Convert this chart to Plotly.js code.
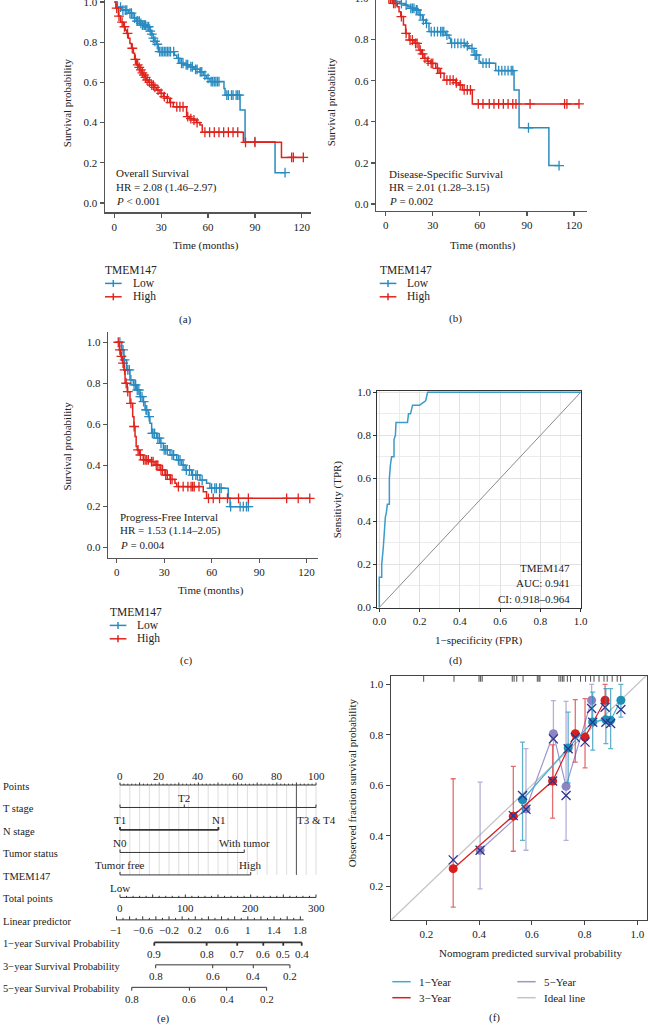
<!DOCTYPE html>
<html><head><meta charset="utf-8">
<script src="https://cdn.plot.ly/plotly-3.0.1.min.js"></script>
<style>html,body{margin:0;padding:0;background:#fff;overflow:hidden;width:648px;height:1025px}
#chart{position:absolute;left:0;top:-20px;width:648px;height:1045px}</style>
</head><body><div id="chart"></div>
<script>
// ---------------- DATA ----------------
// (a) Overall survival
const a_low_t = [0, 2, 5, 9, 12, 14, 16.4, 18, 20.7, 22.8, 24, 25, 26, 27, 28.2, 38.5, 40, 42, 45, 48.4, 51, 54.8, 57, 59, 61.2, 70.2, 70.9, 80.5, 83.7, 102.9];
const a_low_s = [1, 0.975, 0.96, 0.945, 0.92, 0.905, 0.894, 0.885, 0.877, 0.855, 0.84, 0.82, 0.805, 0.79, 0.753, 0.735, 0.72, 0.695, 0.688, 0.678, 0.665, 0.653, 0.635, 0.62, 0.604, 0.57, 0.537, 0.463, 0.305, 0.151];
const a_low_end = 109.3;
const a_low_cens = [4, 5.5, 7, 8, 10, 11, 13, 14.5, 15, 16, 17, 18, 19, 19.5, 20, 21, 22, 23, 24, 25, 26, 27.5, 29, 30, 31, 32, 33, 34, 35, 36, 38, 41, 43, 44, 46, 47, 49, 50, 52, 53, 55, 56, 58, 60, 62, 63, 64, 65, 66, 67, 72, 73, 75, 76, 78, 79, 80, 90, 109.3];
const a_high_t = [0, 1, 2.6, 4, 5.8, 7, 7.9, 9, 10, 11, 12.2, 13, 14.3, 15.5, 16.4, 17.5, 18.6, 19.5, 20.7, 22, 23.9, 25.5, 27.1, 29.2, 31.4, 33.5, 35.5, 37.8, 46.3, 48, 50.6, 52.5, 54.8, 56.3, 82.6, 107];
const a_high_s = [1, 0.97, 0.93, 0.9, 0.877, 0.86, 0.844, 0.82, 0.794, 0.77, 0.745, 0.715, 0.687, 0.675, 0.662, 0.648, 0.637, 0.625, 0.612, 0.6, 0.587, 0.575, 0.562, 0.546, 0.529, 0.521, 0.5, 0.479, 0.43, 0.42, 0.413, 0.4, 0.388, 0.352, 0.302, 0.227];
const a_high_end = 121;
const a_high_cens = [1.5, 3, 5, 6.5, 8.5, 11.5, 13.5, 15, 16, 17, 18, 19, 20, 21, 22.5, 24, 25, 26, 28, 30, 32, 34, 36, 40, 42, 44, 47, 49, 51, 53, 58, 61, 64, 67, 70, 73, 76, 79, 84, 90, 113.5, 114.6, 121];

// (b) Disease-specific survival
const b_low_t = [0, 4, 6.4, 9, 11.7, 14, 15.9, 19.1, 21.2, 23.4, 25.5, 27.6, 38.2, 40.4, 41.4, 51, 53.1, 56.3, 59.5, 60.5, 70.1, 81.8, 85, 104];
const b_low_s = [1, 0.99, 0.985, 0.975, 0.968, 0.96, 0.952, 0.944, 0.92, 0.895, 0.879, 0.839, 0.822, 0.806, 0.782, 0.77, 0.757, 0.725, 0.693, 0.685, 0.649, 0.555, 0.371, 0.187];
const b_low_end = 110.5;
const b_low_cens = [7, 10, 13, 16, 17, 18, 19.5, 20, 22, 24, 26, 29, 31, 33, 35, 36, 37, 39, 42, 44, 46, 48, 50, 52, 55, 57, 58, 62, 64, 66, 72, 74, 76, 78, 80, 81, 91, 110.5];
const b_high_t = [0, 4.2, 7.4, 8.5, 9.6, 11.3, 12.7, 14.9, 18, 21.2, 22.8, 24.4, 26.5, 28.7, 31.9, 34, 37.2, 44.6, 46.7, 48.9, 55.2];
const b_high_s = [1, 0.976, 0.96, 0.935, 0.912, 0.871, 0.83, 0.798, 0.782, 0.749, 0.73, 0.709, 0.695, 0.684, 0.66, 0.636, 0.603, 0.59, 0.579, 0.555, 0.487];
const b_high_end = 123.2;
const b_high_cens = [2, 3, 5, 6, 10, 13, 15.5, 17, 19, 20, 22, 23.5, 25, 27, 29, 30, 33, 35, 39, 41, 43, 45, 47.5, 50, 52, 54, 59, 62, 66, 69, 72, 75, 78, 81, 83, 92, 114, 115.5, 123.2];

// (c) Progress-free interval
const c_low_t = [0, 3.2, 4.6, 6.3, 8.4, 10.5, 12.6, 14.7, 16.8, 17.9, 20, 21, 22.1, 25.3, 27.4, 29.5, 33.7, 37.9, 41, 43.2, 47.4, 52.6, 56.8, 58.9, 70.5, 71.6];
const c_low_s = [1, 0.963, 0.914, 0.865, 0.816, 0.792, 0.767, 0.735, 0.71, 0.67, 0.637, 0.605, 0.556, 0.532, 0.507, 0.475, 0.45, 0.426, 0.401, 0.377, 0.352, 0.328, 0.312, 0.288, 0.239, 0.198];
const c_low_end = 83.2;
const c_low_cens = [2, 4, 5, 7, 8, 9, 11, 12, 13, 14, 15, 16, 17, 18.5, 19, 20.5, 22.5, 23, 24, 26, 27, 28, 30, 31, 32, 35, 36, 39, 40, 42, 44, 46, 48, 50, 51, 54, 60, 62, 63, 65, 66, 72, 78, 80, 82, 83.2];
const c_high_t = [0, 1.7, 2.5, 3.8, 4.6, 5.3, 6.7, 8.4, 10.1, 10.9, 11.6, 12.3, 13, 14.3, 16.8, 21, 24.2, 27.4, 30.5, 33.7, 36.8, 37.9, 54.7, 56.8];
const c_high_s = [1, 0.963, 0.931, 0.898, 0.865, 0.8, 0.759, 0.702, 0.637, 0.589, 0.54, 0.491, 0.475, 0.45, 0.426, 0.418, 0.401, 0.377, 0.352, 0.331, 0.312, 0.296, 0.271, 0.239];
const c_high_end = 122;
const c_high_cens = [1, 2, 3, 4, 5, 6, 7, 9, 11, 13.5, 15, 17, 18, 19, 20, 22, 23, 25, 26, 28, 29, 31, 32, 34, 35, 39, 42, 45, 47, 48, 49, 52, 58, 61, 65, 70, 77, 83.2, 107.4, 114.7, 122];

// (d) ROC
const roc_fpr = [0, 0, 0.012, 0.012, 0.02, 0.025, 0.03, 0.035, 0.04, 0.05, 0.05, 0.055, 0.061, 0.073, 0.073, 0.08, 0.083, 0.14, 0.145, 0.155, 0.165, 0.2, 0.23, 0.235, 0.24, 1.0];
const roc_tpr = [0, 0.14, 0.14, 0.2, 0.28, 0.36, 0.42, 0.44, 0.48, 0.48, 0.6, 0.66, 0.7, 0.7, 0.78, 0.8, 0.86, 0.86, 0.9, 0.9, 0.94, 0.94, 0.96, 0.98, 1.0, 1.0];

// (e) Nomogram
const nom_rows = ["Points", "T stage", "N stage", "Tumor status", "TMEM147", "Total points", "Linear predictor", "1\u2212year Survival Probability", "3\u2212year Survival Probability", "5\u2212year Survival Probability"];
const pts_labels = [0, 20, 40, 60, 80, 100];
const t_levels = ["T1", "T2", "T3 & T4"];      const t_points = [0, 32.8, 100];
const n_levels = ["N0", "N1"];                 const n_points = [0, 50.2];
const tumor_levels = ["Tumor free", "With tumor"]; const tumor_points = [0, 63.4];
const tmem_levels = ["Low", "High"];           const tmem_points = [0, 66.7];
const total_labels = [0, 100, 200, 300];
const lp_labels = [-1, -0.6, -0.2, 0.2, 0.6, 1, 1.4, 1.8];
const lp_pts_at_minus1 = -1.8, lp_pts_per_unit = 33.5;
const surv1_probs = [0.9, 0.8, 0.7, 0.6, 0.5, 0.4]; const surv1_pts = [17.5, 44.2, 59.8, 73.1, 83.3, 92.7];
const surv3_probs = [0.8, 0.6, 0.4, 0.2];           const surv3_pts = [18.2, 47.3, 68.0, 86.7];
const surv5_probs = [0.8, 0.6, 0.4, 0.2];           const surv5_pts = [6.0, 35.4, 54.4, 74.8];

// (f) Calibration
const cal1_x = [0.565, 0.738, 0.831, 0.881, 0.899, 0.938];
const cal1_y = [0.543, 0.748, 0.851, 0.860, 0.858, 0.937];
const cal1_hi = [0.771, 0.890, 0.969, 0.983, 0.983, 1.0];
const cal1_lo = [0.382, 0.61, 0.739, 0.765, 0.745, 0.870];
const cal1_corr = [0.560, 0.745, 0.85, 0.85, 0.845, 0.90];
const cal3_x = [0.302, 0.530, 0.679, 0.765, 0.802, 0.878];
const cal3_y = [0.270, 0.478, 0.617, 0.804, 0.791, 0.937];
const cal3_hi = [0.626, 0.675, 0.76, 0.939, 0.943, 1.0];
const cal3_lo = [0.118, 0.339, 0.470, 0.692, 0.669, 0.86];
const cal3_corr = [0.305, 0.48, 0.617, 0.79, 0.771, 0.909];
const cal5_x = [0.404, 0.578, 0.682, 0.730, 0.827];
const cal5_y = [0.343, 0.507, 0.804, 0.596, 0.937];
const cal5_hi = [0.613, 0.745, 0.935, 0.932, 1.0];
const cal5_lo = [0.190, 0.343, 0.62, 0.382, 0.85];
const cal5_corr = [0.343, 0.505, 0.784, 0.560, 0.904];
const rug_x = [0.19, 0.305, 0.40, 0.406, 0.412, 0.526, 0.533, 0.543, 0.567, 0.621, 0.627, 0.631, 0.703, 0.71, 0.716, 0.722, 0.735, 0.747, 0.785, 0.804, 0.823, 0.836, 0.855, 0.874, 0.886, 0.905, 0.924, 0.937];

// ---------------- HELPERS ----------------
const W = 648, H = 1045, OFF = 20;
const FONT = "'Liberation Serif', 'Times New Roman', serif";
const TXT = '#222';
const BLUE = '#2a8bc0', RED = '#e0231c';
const C1 = '#1e90b8', C1L = '#45aad2', C3 = '#d81e1e', C5 = '#8c85c4', C5L = '#9d96cf', NAVY = '#2c3590', IDEAL = '#c4c4c4';
function px(x) { return x / W; }
function py(y) { return 1 - (y + OFF) / H; }
function xd(a, b) { return [px(a), px(b)]; }
function yd(top, bot) { return [py(bot), py(top)]; }
const traces = [], shapes = [], anns = [];
function ann(text, x, y, size, xanchor, extra) {
  anns.push(Object.assign({ text, x: px(x), y: py(y), xref: 'paper', yref: 'paper', showarrow: false,
    xanchor: xanchor || 'center', yanchor: 'middle', font: { family: FONT, size: size || 11, color: TXT } }, extra || {}));
}
function stepAt(ts, ss, t) { let s = ss[0]; for (let i = 0; i < ts.length; i++) if (ts[i] <= t) s = ss[i]; return s; }
function km(ts, ss, tEnd, cens, color, xa, ya) {
  traces.push({ type: 'scatter', mode: 'lines', x: ts.concat([tEnd]), y: ss.concat([ss[ss.length - 1]]), xaxis: xa, yaxis: ya,
    line: { color, width: 1.5, shape: 'hv' }, hoverinfo: 'skip' });
  traces.push({ type: 'scatter', mode: 'markers', x: cens, y: cens.map(t => stepAt(ts, ss, t)), xaxis: xa, yaxis: ya,
    marker: { symbol: 'cross-thin-open', size: 7, color, line: { color, width: 1.3 } }, hoverinfo: 'skip' });
}
const tickFont = { family: FONT, size: 11, color: TXT };
function kmX(dom, anchor, range) {
  return { domain: dom, anchor, range, tickvals: [0, 30, 60, 90, 120], ticks: 'outside', ticklen: 4, tickwidth: 1.2, tickcolor: '#555',
    showline: true, linecolor: '#555', linewidth: 1.5, showgrid: false, zeroline: false, tickfont: tickFont };
}
function kmY(dom, anchor, range) {
  return { domain: dom, anchor, range, tickvals: [0, 0.2, 0.4, 0.6, 0.8, 1.0], tickformat: '.1f', ticks: 'outside', ticklen: 4, tickwidth: 1.2,
    tickcolor: '#555', showline: true, linecolor: '#555', linewidth: 1.5, showgrid: false, zeroline: false, tickfont: tickFont };
}
function kmLegend(x0, yT) {
  ann('TMEM147', x0, yT, 11.5, 'left');
  [[BLUE, 'Low'], [RED, 'High']].forEach((it, i) => {
    const y = yT + 13.4 * (i + 1);
    shapes.push({ type: 'line', xref: 'paper', yref: 'paper', x0: px(x0 + 1.7), x1: px(x0 + 18.4), y0: py(y), y1: py(y), line: { color: it[0], width: 1.5 } });
    shapes.push({ type: 'line', xref: 'paper', yref: 'paper', x0: px(x0 + 10), x1: px(x0 + 10), y0: py(y - 3.5), y1: py(y + 3.5), line: { color: it[0], width: 1.5 } });
    ann(it[1], x0 + 27.4, y, 11.5, 'left');
  });
}

// ---------------- PANEL A ----------------
km(a_low_t, a_low_s, a_low_end, a_low_cens, BLUE, 'x', 'y');
km(a_high_t, a_high_s, a_high_end, a_high_cens, RED, 'x', 'y');
ann('Overall Survival', 114.3, 173.3, 11, 'left');
ann('HR = 2.08 (1.46\u20132.97)', 114.3, 187.5, 11, 'left');
ann('<i>P</i> &lt; 0.001', 114.3, 201, 11, 'left');
ann('Time (months)', 206, 245, 11);
ann('Survival probability', 66.7, 102.5, 11, 'center', { textangle: -90 });
kmLegend(103.3, 270);
ann('(a)', 185, 319.3, 11);

// ---------------- PANEL B ----------------
km(b_low_t, b_low_s, b_low_end, b_low_cens, BLUE, 'x2', 'y2');
km(b_high_t, b_high_s, b_high_end, b_high_cens, RED, 'x2', 'y2');
ann('Disease-Specific Survival', 386.5, 174, 11, 'left');
ann('HR = 2.01 (1.28\u20133.15)', 386.5, 188, 11, 'left');
ann('<i>P</i> = 0.002', 386.5, 201.5, 11, 'left');
ann('Time (months)', 483, 245, 11);
ann('Survival probability', 331.3, 102, 11, 'center', { textangle: -90 });
kmLegend(378, 270);
ann('(b)', 455, 319, 11);

// ---------------- PANEL C ----------------
km(c_low_t, c_low_s, c_low_end, c_low_cens, BLUE, 'x3', 'y3');
km(c_high_t, c_high_s, c_high_end, c_high_cens, RED, 'x3', 'y3');
ann('Progress-Free Interval', 118.3, 517.3, 11, 'left');
ann('HR = 1.53 (1.14\u20132.05)', 118.3, 530.9, 11, 'left');
ann('<i>P</i> = 0.004', 118.3, 545, 11, 'left');
ann('Time (months)', 211, 590, 11);
ann('Survival probability', 66.5, 446, 11, 'center', { textangle: -90 });
kmLegend(108, 612);
ann('(c)', 186.7, 660, 11);

// ---------------- PANEL D ----------------
traces.push({ type: 'scatter', mode: 'lines', x: [0, 1], y: [0, 1], xaxis: 'x4', yaxis: 'y4', line: { color: '#8a8a8a', width: 1 }, hoverinfo: 'skip' });
traces.push({ type: 'scatter', mode: 'lines', x: roc_fpr, y: roc_tpr, xaxis: 'x4', yaxis: 'y4', line: { color: '#3a9cc8', width: 1.5 }, hoverinfo: 'skip' });
ann('TMEM147', 572, 567.7, 11, 'right');
ann('AUC: 0.941', 572, 583.3, 11, 'right');
ann('CI: 0.918\u20130.964', 572, 598.5, 11, 'right');
ann('1\u2212specificity (FPR)', 479, 640, 11);
ann('Sensitivity (TPR)', 337.3, 499, 11, 'center', { textangle: -90 });
ann('(d)', 455.7, 660.7, 11);

// ---------------- PANEL E (nomogram) ----------------
function seg(list, color, width) {
  const x = [], y = [];
  list.forEach(s => { x.push(s[0], s[2], null); y.push(s[1], s[3], null); });
  traces.push({ type: 'scatter', mode: 'lines', x, y, xaxis: 'x5', yaxis: 'y5', line: { color, width }, hoverinfo: 'skip' });
}
function nlab(text, x, row, shift, size) {
  anns.push({ text, x, y: row, xref: 'x5', yref: 'y5', showarrow: false, xanchor: 'center', yanchor: 'middle', yshift: shift,
    font: { family: FONT, size: size || 11, color: TXT } });
}
// grid lines
const grid = [];
for (let p = 0; p <= 100; p += 5) grid.push([p, 0, p, 4]);
seg(grid, '#d4d4d4', 0.8);
seg([[90, 0, 90, 4]], '#555', 1);
// row labels
nom_rows.forEach((r, i) => anns.push({ text: r, x: px(1), y: i, xref: 'paper', yref: 'y5', showarrow: false, xanchor: 'left', yanchor: 'middle',
  yshift: -1.5, font: { family: FONT, size: 10.5, color: TXT } }));
// Points axis (row 0)
const ptTicks = [];
for (let p = 0; p <= 100; p += 2) ptTicks.push([p, 0, p, (p % 10 === 0) ? -0.11 : -0.06]);
seg([[0, 0, 100, 0]].concat(ptTicks), '#333', 1);
pts_labels.forEach(v => nlab(String(v), v, 0, 9.5));
// categorical rows
function catRow(levels, pts, row, above, lw) {
  const tk = pts.map(p => [p, row, p, row - 0.13]);
  seg([[0, row, Math.max(...pts), row]].concat(tk), '#333', lw);
  levels.forEach((l, i) => nlab(l, pts[i], row, above[i] ? 9.5 : -12.8));
}
catRow(t_levels, t_points, 1, [false, true, false], 1);
catRow(n_levels, n_points, 2, [false, true], 1.8);
catRow(tumor_levels, tumor_points, 3, [false, true], 1);
catRow(tmem_levels, tmem_points, 4, [false, true], 1);
// Total points (row 5)
const totTicks = [];
for (let v = 0; v <= 300; v += 10) totTicks.push([v / 3, 5, v / 3, (v % 50 === 0) ? 5 - 0.13 : 5 - 0.07]);
seg([[0, 5, 100, 5]].concat(totTicks), '#333', 1);
total_labels.forEach(v => nlab(String(v), v / 3, 5, -10.5));
// Linear predictor (row 6)
const lpx = v => lp_pts_at_minus1 + (v + 1) * lp_pts_per_unit;
const lpTicks = [];
for (let k = 0; k <= 28; k++) { const v = -1 + k * 0.1; lpTicks.push([lpx(v), 6, lpx(v), (k % 2 === 0) ? 5.84 : 5.91]); }
seg([[lpx(-1), 6, lpx(1.85), 6]].concat(lpTicks), '#333', 1);
lp_labels.forEach(v => nlab(String(v).replace('-', '\u2212'), lpx(v), 6, -10.5));
// survival rows
function survRow(probs, pts, row, lw) {
  const tk = pts.map(p => [p, row, p, row + 0.15]);
  seg([[Math.min(...pts), row, Math.max(...pts), row]].concat(tk), '#333', lw);
  probs.forEach((v, i) => nlab(String(v), pts[i], row, -11.5));
}
survRow(surv1_probs, surv1_pts, 7, 1.8);
survRow(surv3_probs, surv3_pts, 8, 1);
survRow(surv5_probs, surv5_pts, 9, 1);
ann('(e)', 163.3, 1018, 11);

// ---------------- PANEL F ----------------
traces.push({ type: 'scatter', mode: 'lines', x: [0, 1.1], y: [0, 1.1], xaxis: 'x6', yaxis: 'y6', line: { color: IDEAL, width: 1.3 }, hoverinfo: 'skip' });
const rug = [];
rug_x.forEach(v => rug.push([v, 1.034, v, 1.010]));
{ const x = [], y = []; rug.forEach(s => { x.push(s[0], s[2], null); y.push(s[1], s[3], null); });
  traces.push({ type: 'scatter', mode: 'lines', x, y, xaxis: 'x6', yaxis: 'y6', line: { color: '#222', width: 0.8 }, hoverinfo: 'skip' }); }
function calSeries(xs, ys, hi, lo, corr, mcol, lcol, ecol) {
  traces.push({ type: 'scatter', mode: 'markers', x: xs, y: ys, xaxis: 'x6', yaxis: 'y6', marker: { size: 1, color: 'rgba(0,0,0,0)' },
    error_y: { type: 'data', symmetric: false, array: hi.map((h, i) => h - ys[i]), arrayminus: lo.map((l, i) => ys[i] - l), color: ecol, thickness: 1.3, width: 2.5 },
    hoverinfo: 'skip' });
  traces.push({ type: 'scatter', mode: 'lines+markers', x: xs, y: ys, xaxis: 'x6', yaxis: 'y6', line: { color: lcol, width: 1.2 },
    marker: { size: 9, color: mcol }, hoverinfo: 'skip' });
  traces.push({ type: 'scatter', mode: 'markers', x: xs, y: corr, xaxis: 'x6', yaxis: 'y6',
    marker: { symbol: 'x-thin-open', size: 9, color: NAVY, line: { color: NAVY, width: 1.3 } }, hoverinfo: 'skip' });
}
calSeries(cal5_x, cal5_y, cal5_hi, cal5_lo, cal5_corr, C5, C5L, 'rgba(140,133,196,0.65)');
calSeries(cal3_x, cal3_y, cal3_hi, cal3_lo, cal3_corr, C3, C3, 'rgba(216,30,30,0.65)');
calSeries(cal1_x, cal1_y, cal1_hi, cal1_lo, cal1_corr, C1, C1L, 'rgba(30,144,184,0.7)');
ann('Nomogram predicted survival probability', 530.7, 952.7, 11);
ann('Observed fraction survival probability', 352.3, 783, 11, 'center', { textangle: -90 });
[[C1L, '1\u2212Year', 392.3, 981.7], [C3, '3\u2212Year', 392.3, 997.7], [C5L, '5\u2212Year', 517.3, 981.7], [IDEAL, 'Ideal line', 517.3, 997.7]].forEach(it => {
  shapes.push({ type: 'line', xref: 'paper', yref: 'paper', x0: px(it[2]), x1: px(it[2] + 18.4), y0: py(it[3]), y1: py(it[3]), line: { color: it[0], width: 1.5 } });
  ann(it[1], it[2] + 24.4, it[3], 11, 'left');
});
ann('(f)', 494, 1017.5, 11);

// ---------------- LAYOUT ----------------
const dAxis = (dom, anchor, range) => ({ domain: dom, anchor, range, dtick: 0.2, tick0: 0, tickformat: '.1f', ticks: 'outside', ticklen: 3, tickcolor: '#333',
  showline: true, mirror: true, linecolor: '#333', linewidth: 1, showgrid: true, gridcolor: '#e2e2e2', gridwidth: 1, zeroline: false, tickfont: tickFont,
  minor: { dtick: 0.1, tick0: 0, showgrid: true, gridcolor: '#ececec', ticks: '' } });
const fAxis = (dom, anchor, range) => ({ domain: dom, anchor, range, tickvals: [0.2, 0.4, 0.6, 0.8, 1.0], tickformat: '.1f', ticks: 'outside', ticklen: 4,
  tickcolor: '#444', showline: true, mirror: true, linecolor: '#444', linewidth: 1.2, showgrid: false, zeroline: false, tickfont: tickFont });
const layout = {
  width: W, height: H, margin: { l: 0, r: 0, t: 0, b: 0 }, showlegend: false, paper_bgcolor: '#fff', plot_bgcolor: '#fff',
  xaxis: kmX(xd(105, 311), 'y', [-5.95, 125.9]),
  yaxis: kmY(yd(-8, 212), 'x', [-0.0448, 1.05]),
  xaxis2: kmX(xd(376.3, 587), 'y2', [-6.0, 128.3]),
  yaxis2: kmY(yd(-11.8, 210.7), 'x2', [-0.0326, 1.05]),
  xaxis3: kmX(xd(108.3, 318), 'y3', [-5.3, 127.2]),
  yaxis3: kmY(yd(332.2, 557.5), 'x3', [-0.0498, 1.049]),
  xaxis4: dAxis(xd(377.3, 581.3), 'y4', [-0.0099, 1.003]),
  yaxis4: dAxis(yd(390.7, 607.7), 'x4', [-0.001, 1.0074]),
  xaxis5: { domain: xd(0, 340), anchor: 'y5', range: [-61.22, 112.24], visible: false },
  yaxis5: { domain: yd(760, 1005), anchor: 'x5', range: [9.786, -1.112], visible: false },
  xaxis6: fAxis(xd(390.7, 647.3), 'y6', [0.065, 1.0381]),
  yaxis6: fAxis(yd(675.7, 920), 'x6', [0.0669, 1.034]),
  shapes, annotations: anns
};
Plotly.newPlot('chart', traces, layout, { staticPlot: true, displayModeBar: false });
</script></body></html>
